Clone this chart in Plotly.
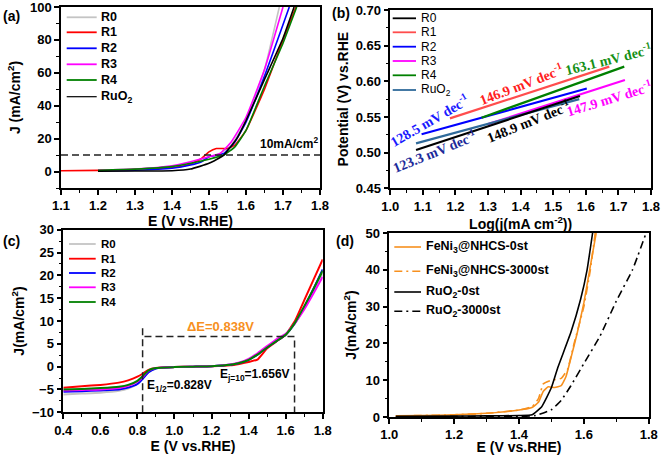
import plotly.graph_objects as go

W, H = 662, 455

def PX(x):
    return x / W

def PY(y):
    return 1 - y / H

# ---------------- Panel (a) data ----------------
a_labels = ["R0", "R1", "R2", "R3", "R4", "RuO<sub>2</sub>"]
a_colors = ["#c4c4c4", "#ff0000", "#0000ff", "#ff00ff", "#008000", "#000000"]
a_R0_E = [1.2, 1.3, 1.4, 1.45, 1.5, 1.53, 1.56, 1.6, 1.65, 1.69]
a_R0_J = [0.8, 1.5, 3.0, 5.0, 9.0, 11.0, 16.0, 31.0, 62.0, 100.0]
a_R1_E = [1.1, 1.2, 1.3, 1.4, 1.45, 1.48, 1.5, 1.52, 1.55, 1.57, 1.6, 1.65, 1.7, 1.735]
a_R1_J = [0.5, 0.7, 1.2, 2.5, 4.5, 8.0, 12.0, 14.0, 14.0, 16.0, 25.0, 50.0, 80.0, 100.0]
a_R2_E = [1.2, 1.3, 1.4, 1.45, 1.48, 1.5, 1.54, 1.57, 1.6, 1.65, 1.717]
a_R2_J = [0.5, 0.8, 2.0, 4.0, 6.0, 9.0, 11.0, 18.0, 30.0, 58.0, 100.0]
a_R3_E = [1.2, 1.3, 1.4, 1.45, 1.5, 1.53, 1.56, 1.6, 1.65, 1.70]
a_R3_J = [0.8, 1.5, 3.5, 6.0, 9.0, 11.0, 18.0, 33.0, 62.0, 100.0]
a_R4_E = [1.2, 1.3, 1.4, 1.45, 1.5, 1.54, 1.57, 1.6, 1.65, 1.7, 1.737]
a_R4_J = [0.8, 1.5, 3.0, 5.0, 7.5, 10.0, 15.0, 25.0, 52.0, 78.0, 100.0]
a_Ru_E = [1.2, 1.3, 1.4, 1.45, 1.5, 1.54, 1.575, 1.6, 1.65, 1.7, 1.73]
a_Ru_J = [0.2, 0.3, 0.5, 1.5, 5.0, 10.0, 20.0, 31.0, 56.0, 81.0, 100.0]
a_ref_J = 10

# ---------------- Panel (b) data ----------------
b_labels = ["R0", "R1", "R2", "R3", "R4", "RuO<sub>2</sub>"]
b_colors = ["#000000", "#ff4d4d", "#0000ff", "#ff00ff", "#008000", "#2f6a9a"]
b_R0_x = [1.079, 1.582]
b_R0_y = [0.5037, 0.5794]
b_R1_x = [1.183, 1.672]
b_R1_y = [0.548, 0.6206]
b_R2_x = [1.096, 1.603]
b_R2_y = [0.5257, 0.590]
b_R3_x = [1.30, 1.720]
b_R3_y = [0.540, 0.6019]
b_R4_x = [1.28, 1.718]
b_R4_y = [0.549, 0.6206]
b_Ru_x = [1.079, 1.58]
b_Ru_y = [0.513, 0.575]
b_slopes = ["128.5", "123.3", "146.9", "163.1", "147.9", "148.9"]
b_slope_colors = ["#1a1aff", "#1c2a9a", "#ff2020", "#159015", "#ff00ff", "#000000"]
b_slope_x = [1.12, 1.135, 1.401, 1.667, 1.672, 1.423]
b_slope_y = [0.546, 0.503, 0.596, 0.632, 0.576, 0.545]
b_slope_angle = [-30, -22, -21, -14, -17, -22]

# ---------------- Panel (c) data ----------------
c_labels = ["R0", "R1", "R2", "R3", "R4"]
c_colors = ["#c4c4c4", "#ff0000", "#0000ff", "#ff00ff", "#008000"]
c_E = [0.4, 0.5, 0.6, 0.7, 0.75, 0.8, 0.83, 0.86, 0.9, 1.0, 1.1, 1.2, 1.3, 1.35,
       1.4, 1.45, 1.5, 1.55, 1.6, 1.65, 1.7, 1.75, 1.8]
c_R0 = [-6.1, -5.9, -5.7, -5.3, -4.8, -3.8, -2.5, -1.2, -0.4, -0.1, 0, 0.1, 0.4, 0.8,
        1.6, 2.8, 4.2, 5.6, 7.0, 9.5, 13.0, 16.5, 20.5]
c_R1 = [-4.6, -4.3, -4.0, -3.5, -3.0, -2.2, -1.5, -0.7, -0.3, -0.1, 0, 0.1, 0.3, 0.6,
        1.0, 1.6, 4.0, 5.5, 7.0, 10.0, 14.5, 19.0, 23.5]
c_R2 = [-5.5, -5.4, -5.2, -5.0, -4.6, -3.8, -2.6, -1.2, -0.4, -0.1, 0, 0.1, 0.4, 0.8,
        1.5, 2.7, 4.2, 5.6, 7.0, 9.5, 13.0, 17.0, 21.3]
c_R3 = [-5.2, -5.1, -5.0, -4.7, -4.2, -3.3, -2.2, -0.9, -0.3, -0.1, 0, 0.1, 0.5, 0.9,
        1.7, 3.0, 4.5, 6.0, 7.2, 9.5, 12.5, 16.0, 19.7]
c_R4 = [-5.0, -4.9, -4.7, -4.4, -4.0, -3.1, -2.0, -0.8, -0.3, -0.1, 0, 0.1, 0.4, 0.8,
        1.5, 2.7, 4.2, 5.6, 7.0, 9.6, 13.2, 17.0, 21.0]
c_E_half = 0.828
c_E_j10 = 1.648
c_guide_J = 6.6

# ---------------- Panel (d) data ----------------
d_labels = ["FeNi<sub>3</sub>@NHCS-0st", "FeNi<sub>3</sub>@NHCS-3000st",
            "RuO<sub>2</sub>-0st", "RuO<sub>2</sub>-3000st"]
d_Fe0_E = [1.02, 1.1, 1.2, 1.3, 1.4, 1.44, 1.46, 1.475, 1.49, 1.51, 1.53, 1.545,
           1.56, 1.58, 1.6, 1.62, 1.638]
d_Fe0_J = [0.3, 0.4, 0.6, 1.0, 1.9, 2.6, 4.0, 7.0, 8.2, 8.0, 8.5, 11.0,
           16.0, 23.0, 31.0, 41.0, 50.0]
d_Fe3_E = [1.02, 1.1, 1.2, 1.3, 1.4, 1.44, 1.46, 1.475, 1.5, 1.53, 1.55, 1.57,
           1.6, 1.62, 1.635]
d_Fe3_J = [0.3, 0.4, 0.6, 1.0, 1.9, 2.8, 5.0, 9.0, 10.0, 10.5, 13.0, 20.0,
           30.0, 40.0, 50.0]
d_Ru0_E = [1.02, 1.2, 1.3, 1.4, 1.44, 1.47, 1.5, 1.52, 1.56, 1.59, 1.61, 1.627]
d_Ru0_J = [0.2, 0.25, 0.3, 0.4, 0.6, 2.8, 8.0, 13.5, 23.0, 32.0, 40.0, 50.0]
d_Ru3_E = [1.02, 1.2, 1.4, 1.45, 1.5, 1.53, 1.56, 1.6, 1.65, 1.7, 1.75, 1.792]
d_Ru3_J = [0.0, 0.1, 0.2, 0.4, 2.0, 4.5, 8.5, 14.5, 22.0, 31.5, 40.0, 50.0]
d_colors = ["#f7901e", "#f7901e", "#000000", "#000000"]

FONT = "Liberation Sans"
SERIF = "Liberation Serif"

fig = go.Figure()

SPL = dict(shape="spline", smoothing=0.4)

# ---- traces (a)
a_series = [(a_R0_E, a_R0_J), (a_R1_E, a_R1_J), (a_R2_E, a_R2_J),
            (a_R3_E, a_R3_J), (a_R4_E, a_R4_J), (a_Ru_E, a_Ru_J)]
for (e, j), col, lab in zip(a_series, a_colors, a_labels):
    fig.add_trace(go.Scatter(x=e, y=j, mode="lines", line=dict(color=col, width=1.6, **SPL),
                             name=lab, showlegend=False, xaxis="x", yaxis="y"))
fig.add_trace(go.Scatter(x=[1.1, 1.8], y=[a_ref_J, a_ref_J], mode="lines",
                         line=dict(color="#222", width=1.5, dash="7px,4px"), showlegend=False,
                         xaxis="x", yaxis="y"))

# ---- traces (b)
b_series = [(b_R0_x, b_R0_y), (b_R1_x, b_R1_y), (b_R2_x, b_R2_y),
            (b_R3_x, b_R3_y), (b_R4_x, b_R4_y), (b_Ru_x, b_Ru_y)]
order_b = [3, 1, 2, 4, 5, 0]
for i in order_b:
    e, j = b_series[i]
    fig.add_trace(go.Scatter(x=e, y=j, mode="lines", line=dict(color=b_colors[i], width=2.2),
                             name=b_labels[i], showlegend=False, xaxis="x2", yaxis="y2"))

# ---- traces (c)
c_series = [c_R0, c_R1, c_R2, c_R3, c_R4]
for j, col, lab in zip(c_series, c_colors, c_labels):
    fig.add_trace(go.Scatter(x=c_E, y=j, mode="lines", line=dict(color=col, width=2, **SPL),
                             name=lab, showlegend=False, xaxis="x3", yaxis="y3"))
guide = dict(color="#222", width=1.5, dash="7px,4px")
fig.add_trace(go.Scatter(x=[c_E_half, c_E_half], y=[-10, 8.6], mode="lines", line=guide,
                         showlegend=False, xaxis="x3", yaxis="y3"))
fig.add_trace(go.Scatter(x=[c_E_half + 0.01, c_E_j10, c_E_j10], y=[c_guide_J, c_guide_J, -10],
                         mode="lines", line=guide, showlegend=False, xaxis="x3", yaxis="y3"))

# ---- traces (d)
d_series = [(d_Fe0_E, d_Fe0_J), (d_Fe3_E, d_Fe3_J), (d_Ru0_E, d_Ru0_J), (d_Ru3_E, d_Ru3_J)]
d_dash = ["solid", "8px,4px,2px,4px", "solid", "8px,4px,2px,4px"]
for (e, j), col, ds, lab in zip(d_series, d_colors, d_dash, d_labels):
    fig.add_trace(go.Scatter(x=e, y=j, mode="lines", line=dict(color=col, width=1.6, dash=ds, **SPL),
                             name=lab, showlegend=False, xaxis="x4", yaxis="y4"))

# ---- axes
tickfont = dict(family=FONT, size=13, color="black", weight="bold")
titlefont = dict(family=FONT, size=14, color="black", weight="bold")

def ax(domain, rng, dtick, minor_dtick, title, anchor, tick0=None, fmt=None, standoff=None):
    d = dict(domain=domain, range=rng, dtick=dtick, ticks="outside", ticklen=5, tickwidth=1.5,
             tickcolor="black", showline=True, linecolor="black", linewidth=1.5, mirror=True,
             showgrid=False, zeroline=False, tickfont=tickfont, anchor=anchor, automargin=False,
             ticklabeloverflow="allow",
             title=dict(text=title, font=titlefont),
             minor=dict(ticks="outside", ticklen=3, dtick=minor_dtick, tickcolor="black", tickwidth=1.2, showgrid=False))
    if tick0 is not None:
        d["tick0"] = tick0
        d["minor"]["tick0"] = tick0
    if fmt:
        d["tickformat"] = fmt
    if standoff is not None:
        d["title"]["standoff"] = standoff
    return d

fig.update_layout(
    template="none",
    width=W, height=H, autosize=False,
    margin=dict(l=0, r=0, t=0, b=0),
    paper_bgcolor="white", plot_bgcolor="white",
    xaxis=ax([PX(61), PX(320)], [1.1, 1.8], 0.1, 0.05, "E (V vs.RHE)", "y", tick0=1.1, fmt=".1f", standoff=3),
    yaxis=ax([PY(188), PY(7)], [-10, 100], 20, 10, "J (mA/cm<sup>2</sup>)", "x", tick0=0, standoff=6),
    xaxis2=ax([PX(390.3), PX(651)], [1.0, 1.8], 0.1, 0.05, "Log(j(mA cm<sup>-2</sup>))", "y2", tick0=1.0, fmt=".1f", standoff=3),
    yaxis2=ax([PY(188.3), PY(10)], [0.45, 0.70], 0.05, 0.025, "Potential (V) vs.RHE", "x2", tick0=0.45, fmt=".2f", standoff=4),
    xaxis3=ax([PX(63.3), PX(322.7)], [0.4, 1.8], 0.2, 0.1, "E (V vs.RHE)", "y3", tick0=0.4, fmt=".1f", standoff=3),
    yaxis3=ax([PY(412.3), PY(229.7)], [-10, 30], 5, 2.5, "J(mA/cm<sup>2</sup>)", "x3", tick0=-10, standoff=4),
    xaxis4=ax([PX(389.3), PX(648.7)], [1.0, 1.8], 0.2, 0.1, "E (V vs.RHE)", "y4", tick0=1.0, fmt=".1f", standoff=3),
    yaxis4=ax([PY(417), PY(233)], [0, 50], 10, 5, "J(mA/cm<sup>2</sup>)", "x4", tick0=0, standoff=6),
)

ann = []
shapes = []

# panel labels
for txt, x, y in [("(a)", 1, 16), ("(b)", 330, 13), ("(c)", 1, 241), ("(d)", 334, 241)]:
    ann.append(dict(text="<b>" + txt + "</b>", x=PX(x), y=PY(y), xref="paper", yref="paper",
                    xanchor="left", yanchor="middle", showarrow=False,
                    font=dict(family=FONT, size=14, color="black")))

def legend(items, x0, x1, xt, size, bold):
    for col, dash, lw, lab, y in items:
        shapes.append(dict(type="line", xref="paper", yref="paper", x0=PX(x0), x1=PX(x1),
                           y0=PY(y), y1=PY(y), line=dict(color=col, width=lw, dash=dash)))
        t = "<b>" + lab + "</b>" if bold else lab
        ann.append(dict(text=t, x=PX(xt), y=PY(y), xref="paper", yref="paper", xanchor="left",
                        yanchor="middle", showarrow=False,
                        font=dict(family=FONT, size=size, color="black")))

a_rows = [17.3, 32.3, 48.3, 64.3, 80, 96.7]
legend([(c, "solid", 1.8 if i < 5 else 1.2, l, y) for i, (c, l, y) in enumerate(zip(a_colors, a_labels, a_rows))],
       66.7, 96.7, 99, 12.5, True)
b_rows = [18.3, 32.3, 46.7, 61, 75.3, 90]
legend([(c, "solid", 1.8, l, y) for c, l, y in zip(b_colors, b_labels, b_rows)],
       392.7, 416, 419, 12, False)
c_rows = [244, 258.7, 273, 287.3, 302]
legend([(c, "solid", 1.8, l, y) for c, l, y in zip(c_colors, c_labels, c_rows)],
       69, 95.7, 99, 11.5, True)
d_rows = [247, 271.3, 292, 311.3]
legend([(c, ds, 1.6, l, y) for c, ds, l, y in zip(d_colors, d_dash, d_labels, d_rows)],
       394.3, 421, 423.7, 12.5, True)

# (a) annotation
ann.append(dict(text="<b>10mA/cm<sup>2</sup></b>", x=1.715, y=17.5, xref="x", yref="y", showarrow=False,
                xanchor="center", yanchor="middle", font=dict(family=FONT, size=12, color="black")))

# (b) slope annotations
for s, col, x, y, ang in zip(b_slopes, b_slope_colors, b_slope_x, b_slope_y, b_slope_angle):
    ann.append(dict(text="<b>" + s + " mV dec<sup>-1</sup></b>", x=x, y=y, xref="x2", yref="y2",
                    showarrow=False, textangle=ang, font=dict(family=SERIF, size=14, color=col)))

# (c) annotations
ann.append(dict(text="<b>ΔE=0.838V</b>", x=1.246, y=8.8, xref="x3", yref="y3", showarrow=False,
                font=dict(family=FONT, size=13, color="#f7901e")))
ann.append(dict(text="<b>E<sub>1/2</sub>=0.828V</b>", x=0.84, y=-4.3, xref="x3", yref="y3",
                showarrow=False, xanchor="left", font=dict(family=FONT, size=12, color="black")))
ann.append(dict(text="<b>E<sub>j=10</sub>=1.656V</b>", x=1.235, y=-1.8, xref="x3", yref="y3",
                showarrow=False, xanchor="left", font=dict(family=FONT, size=12, color="black")))

fig.update_layout(annotations=ann, shapes=shapes)
fig.write_html("out.html", config={"displayModeBar": False},
               post_script="document.body.style.margin='0';document.body.style.overflow='hidden';")
